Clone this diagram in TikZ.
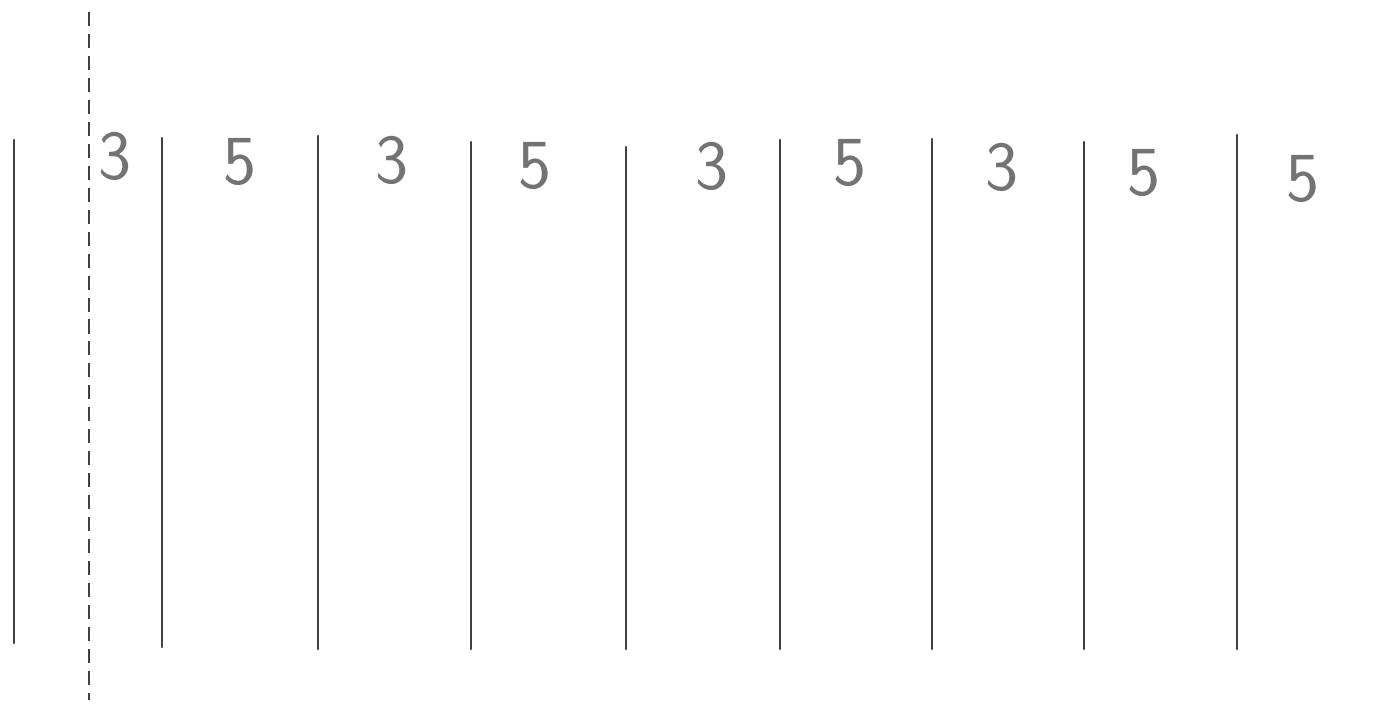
\documentclass[tikz,border=0pt]{standalone}
\usepackage{tikz}
\usetikzlibrary{positioning}

\tikzset{
  wall/.style={line width=1.5pt, black!75, line cap=round},
  axisline/.style={line width=1.4pt, black!75, dash pattern=on 8pt off 4.5pt},
  digit/.style={font=\sffamily\fontsize{40}{40}\selectfont, text=black!55, inner sep=0pt}
}

\begin{document}
\begin{tikzpicture}[x=0.02cm, y=-0.02cm]
        \useasboundingbox (0,0) rectangle (1384,706);

        % centre line
        \coordinate (ctop) at (89,12);
        \coordinate (cbot) at (89,700);
        \draw[axisline] (ctop) -- (cbot);

        % vertical strokes
        \foreach \name/\x/\ytop/\ybot in {w1/14/140/643, w2/162/138/647, w3/318/136/649,
            w4/471/142/649, w5/626/147/649, w6/780/140/649, w7/932/139/649,
            w8/1084/142/649, w9/1237/135/649} {
          \coordinate (\name t) at (\x,\ytop);
          \coordinate (\name b) at (\x,\ybot);
          \draw[wall] (\name t) -- (\name b);
        }

        % numbers
        \node (n1) [digit] at (115,156) {3};
        \node (n2) [digit] at (240,162) {5};
        \node (n3) [digit] at (392,160) {3};
        \node (n4) [digit] at (535,166) {5};
        \node (n5) [digit] at (712,166) {3};
        \node (n6) [digit] at (850,163) {5};
        \node (n7) [digit] at (1002,167) {3};
        \node (n8) [digit] at (1144,173) {5};
        \node (n9) [digit] at (1303,179) {5};
    \end{tikzpicture}
\end{document}
